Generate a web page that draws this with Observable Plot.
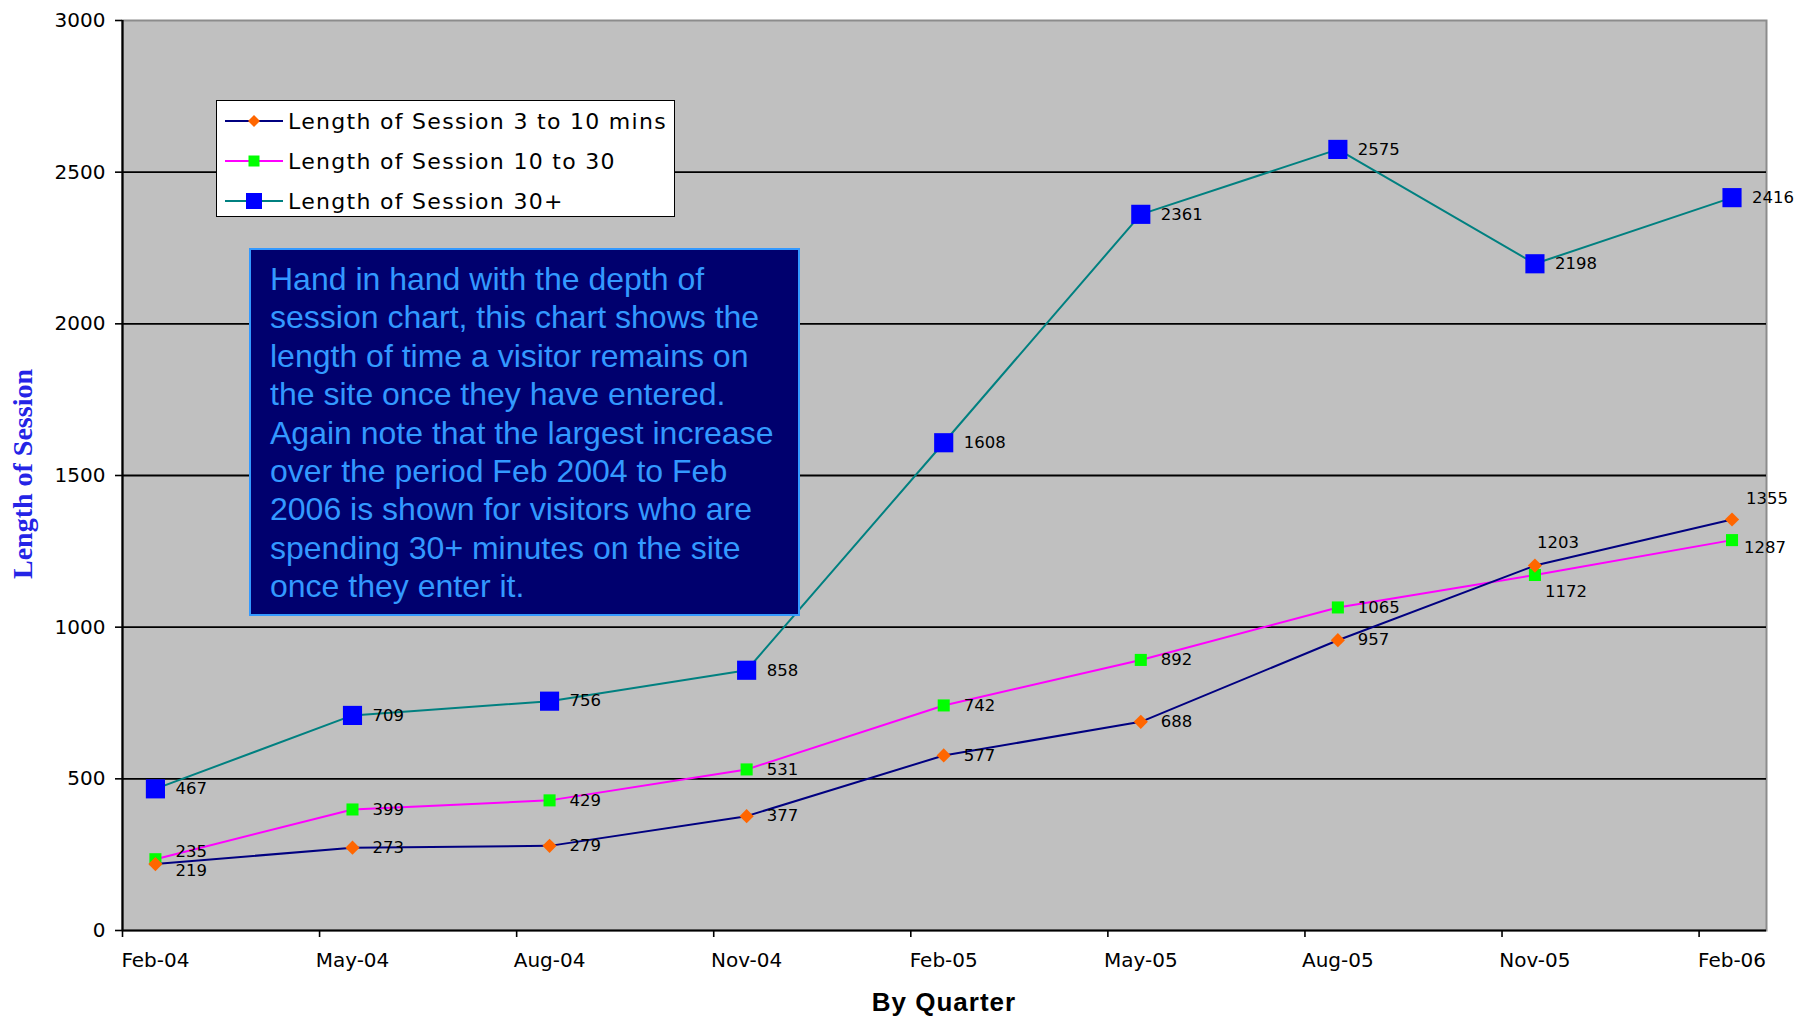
<!DOCTYPE html>
<html><head><meta charset="utf-8">
<script src="https://cdn.jsdelivr.net/npm/d3@7"></script>
<script src="https://cdn.jsdelivr.net/npm/@observablehq/plot@0.6"></script>
<style>
body{margin:0;background:#fff;}
#wrap{position:relative;width:1802px;height:1017px;overflow:hidden;background:#fff;}
#wrap svg{display:block;}
.legend{position:absolute;left:216px;top:100px;width:459px;height:117px;background:#fff;border:1.5px solid #000;box-sizing:border-box;font-family:"DejaVu Sans",sans-serif;font-size:22px;letter-spacing:1.3px;color:#000;}
.legend .row{position:absolute;left:8px;height:30px;display:flex;align-items:center;}
.legend .row span{margin-left:5px;white-space:nowrap;}
.note{position:absolute;left:249px;top:248px;width:551px;height:368px;background:#00006e;border:2px solid #3399ff;box-sizing:border-box;color:#3399ff;font-family:"Liberation Sans",Arial,sans-serif;font-size:32px;line-height:38.4px;padding:10px 0 0 19px;white-space:nowrap;}
.ytitle{position:absolute;left:23px;top:474px;transform:translate(-50%,-50%) rotate(-90deg);font-family:"Liberation Serif","Times New Roman",serif;font-weight:bold;font-size:28px;color:#2424e6;white-space:nowrap;}
.xtitle{position:absolute;left:944px;top:1002px;transform:translate(-50%,-50%);font-family:"Liberation Sans",Arial,sans-serif;font-weight:bold;font-size:26px;letter-spacing:1px;color:#000;white-space:nowrap;}
</style></head><body><div id="wrap"></div>
<script>
const quarters = ["Feb-04","May-04","Aug-04","Nov-04","Feb-05","May-05","Aug-05","Nov-05","Feb-06"];
const session3to10 = [219,273,279,377,577,688,957,1203,1355];
const session10to30 = [235,399,429,531,742,892,1065,1172,1287];
const session30plus = [467,709,756,858,1608,2361,2575,2198,2416];
const yTicks = [0,500,1000,1500,2000,2500,3000];
const seriesNames = ["Length of Session 3 to 10 mins","Length of Session 10 to 30","Length of Session 30+"];

const idx = quarters.map((q,i)=>i);
const toRows = (vals, s) => vals.map((v,i)=>({i, v, s}));
const r1 = toRows(session3to10, seriesNames[0]);
const r2 = toRows(session10to30, seriesNames[1]);
const r3 = toRows(session30plus, seriesNames[2]);

const off = 0.167;
const lab = {fontSize:16.5, fontFamily:"DejaVu Sans, sans-serif", fill:"#000", textAnchor:"start"};
const txt = d => String(d.v);

const plot = Plot.plot({
  width:1802, height:1017,
  marginLeft:122, marginRight:36, marginTop:20, marginBottom:87,
  style:{fontFamily:"DejaVu Sans, sans-serif", background:"transparent", color:"#000"},
  x:{type:"linear", domain:[-off, 8.175]},
  y:{domain:[0,3000]},
  marks:[
    Plot.frame({fill:"#c0c0c0", stroke:"#8c8c8c", strokeWidth:2}),
    Plot.ruleY(yTicks.slice(1,-1), {stroke:"#000", strokeWidth:1.8}),
    Plot.ruleY([0], {stroke:"#000", strokeWidth:2.2}),
    Plot.ruleX([-off], {stroke:"#000", strokeWidth:2.2}),
    Plot.axisY({ticks:yTicks, tickSize:7, tickPadding:10, fontSize:20, tickFormat:d=>String(d), label:null, strokeWidth:1.6}),
    Plot.axisX({ticks:idx.map(i=>i-off), tickSize:7, tickFormat:()=>"", label:null, strokeWidth:1.6}),
    Plot.axisX({ticks:idx, tickSize:0, tickPadding:22, fontSize:20, tickFormat:i=>quarters[i], label:null}),
    Plot.line(r3, {x:"i", y:"v", stroke:"#008080", strokeWidth:2}),
    Plot.line(r2, {x:"i", y:"v", stroke:"#ff00ff", strokeWidth:2}),
    Plot.line(r1, {x:"i", y:"v", stroke:"#000080", strokeWidth:2}),
    Plot.dot(r3, {x:"i", y:"v", symbol:"square", r:10.8, fill:"#0000ff", stroke:null}),
    Plot.dot(r2, {x:"i", y:"v", symbol:"square", r:6.8, fill:"#00ff00", stroke:null}),
    Plot.dot(r1, {x:"i", y:"v", symbol:"diamond2", r:6.4, fill:"#ff6600", stroke:null}),
    Plot.text(r3, {x:"i", y:"v", text:txt, dx:20, dy:0, ...lab}),
    Plot.text(r2.filter(d=>d.i===0), {x:"i", y:"v", text:txt, dx:20, dy:-7, ...lab}),
    Plot.text(r2.filter(d=>d.i>0 && d.i<7), {x:"i", y:"v", text:txt, dx:20, dy:0, ...lab}),
    Plot.text(r2.filter(d=>d.i===7), {x:"i", y:"v", text:txt, dx:10, dy:17, ...lab}),
    Plot.text(r2.filter(d=>d.i===8), {x:"i", y:"v", text:txt, dx:12, dy:8, ...lab}),
    Plot.text(r1.filter(d=>d.i===0), {x:"i", y:"v", text:txt, dx:20, dy:7, ...lab}),
    Plot.text(r1.filter(d=>d.i>0 && d.i<7), {x:"i", y:"v", text:txt, dx:20, dy:0, ...lab}),
    Plot.text(r1.filter(d=>d.i===7), {x:"i", y:"v", text:txt, dx:2, dy:-23, ...lab}),
    Plot.text(r1.filter(d=>d.i===8), {x:"i", y:"v", text:txt, dx:14, dy:-21, ...lab})
  ]
});
const wrap = document.getElementById("wrap");
wrap.appendChild(plot);

// legend
const legend = document.createElement("div");
legend.className = "legend";
const styles = [
  {line:"#000080", fill:"#ff6600", shape:"diamond", size:6},
  {line:"#ff00ff", fill:"#00ff00", shape:"square", size:5.5},
  {line:"#008080", fill:"#0000ff", shape:"square", size:8}
];
seriesNames.forEach((name,k)=>{
  const row = document.createElement("div");
  row.className = "row";
  row.style.top = (5 + k*40) + "px";
  const st = styles[k];
  let shape;
  if (st.shape==="diamond") shape = `<polygon points="29,${15-st.size} ${29+st.size},15 29,${15+st.size} ${29-st.size},15" fill="${st.fill}"/>`;
  else shape = `<rect x="${29-st.size}" y="${15-st.size}" width="${2*st.size}" height="${2*st.size}" fill="${st.fill}"/>`;
  row.innerHTML = `<svg width="58" height="30"><line x1="0" y1="15" x2="58" y2="15" stroke="${st.line}" stroke-width="2"/>${shape}</svg><span>${name}</span>`;
  legend.appendChild(row);
});
wrap.appendChild(legend);

// annotation box
const noteLines = ["Hand in hand with the depth of","session chart, this chart shows the","length of time a visitor remains on","the site once they have entered.","Again note that the largest increase","over the period Feb 2004 to Feb","2006 is shown for visitors who are","spending 30+ minutes on the site","once they enter it."];
const note = document.createElement("div");
note.className = "note";
note.innerHTML = noteLines.join("<br>");
wrap.appendChild(note);

const yt = document.createElement("div");
yt.className = "ytitle"; yt.textContent = "Length of Session";
wrap.appendChild(yt);
const xt = document.createElement("div");
xt.className = "xtitle"; xt.textContent = "By Quarter";
wrap.appendChild(xt);
</script>
</body></html>
